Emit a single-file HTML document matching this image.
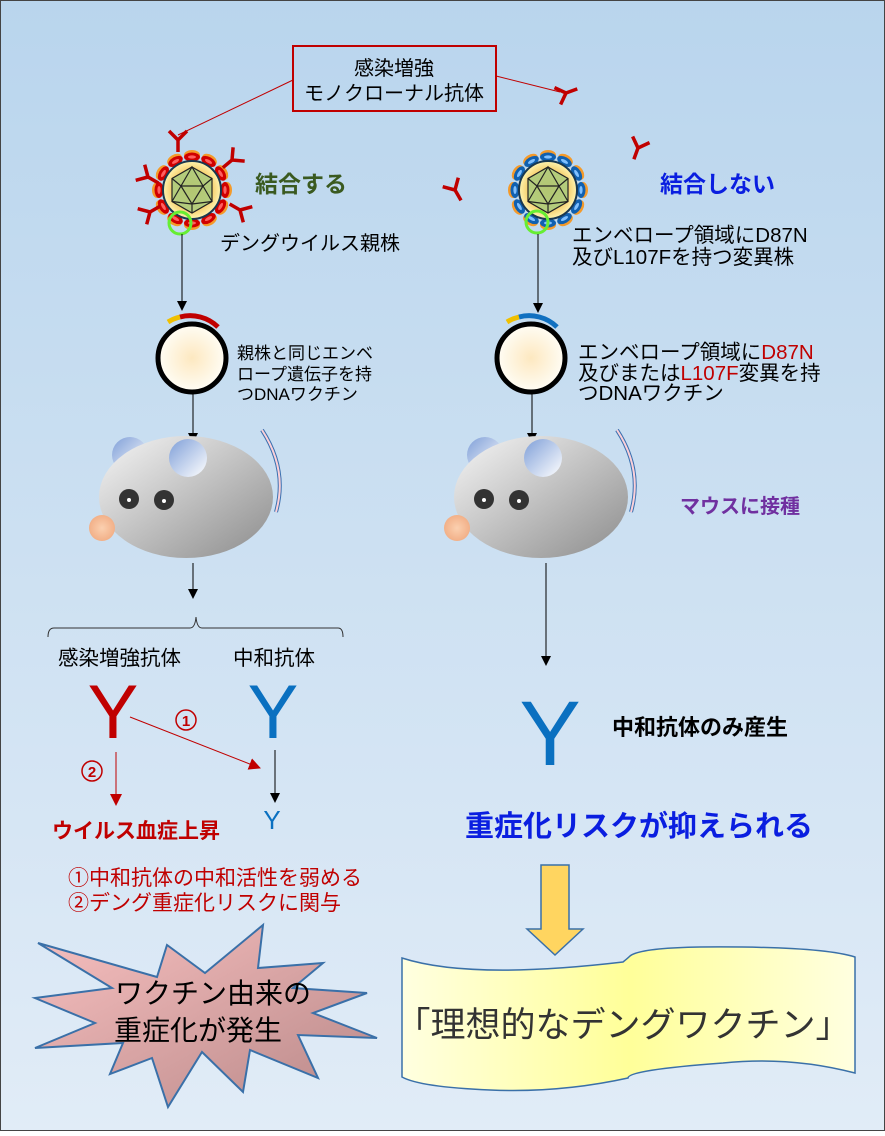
<!DOCTYPE html>
<html><head><meta charset="utf-8"><style>
html,body{margin:0;padding:0}
body{width:885px;height:1131px;overflow:hidden}
svg text{font-family:"Liberation Sans","Noto Sans CJK JP",sans-serif}
</style></head><body>
<svg width="885" height="1131" viewBox="0 0 885 1131" xmlns="http://www.w3.org/2000/svg">
<defs>
<linearGradient id="bg" x1="0" y1="0" x2="0" y2="1"><stop offset="0" stop-color="#b9d5ed"/><stop offset="1" stop-color="#e1ecf7"/></linearGradient>
<radialGradient id="vir" cx="0.5" cy="0.5" r="0.5"><stop offset="0" stop-color="#f0a020"/><stop offset="0.7" stop-color="#f5d070"/><stop offset="1" stop-color="#fff4b0"/></radialGradient>
<radialGradient id="dna" cx="0.5" cy="0.5" r="0.5"><stop offset="0" stop-color="#fde8c0"/><stop offset="1" stop-color="#fffdf5"/></radialGradient>
<linearGradient id="body" x1="0" y1="0" x2="1" y2="1"><stop offset="0" stop-color="#f6f6f6"/><stop offset="1" stop-color="#8c8c8c"/></linearGradient>
<linearGradient id="ear" x1="0" y1="0" x2="1" y2="1"><stop offset="0" stop-color="#7f9fd8"/><stop offset="1" stop-color="#ffffff"/></linearGradient>
<radialGradient id="nose"><stop offset="0" stop-color="#fbd0b0"/><stop offset="1" stop-color="#f2b088"/></radialGradient>
<linearGradient id="star" x1="0" y1="0" x2="1" y2="1"><stop offset="0" stop-color="#f8c0c0"/><stop offset="1" stop-color="#b88888"/></linearGradient>
<linearGradient id="scroll" x1="0" y1="0" x2="1" y2="0"><stop offset="0" stop-color="#ffffe0"/><stop offset="0.5" stop-color="#ffff99"/><stop offset="1" stop-color="#ffffe0"/></linearGradient>
<marker id="ab" markerWidth="10" markerHeight="10" refX="9" refY="5" orient="auto" markerUnits="userSpaceOnUse"><path d="M0,0 L10,5 L0,10z" fill="#000"/></marker>
<marker id="ar" markerWidth="12" markerHeight="12" refX="11" refY="6" orient="auto" markerUnits="userSpaceOnUse"><path d="M0,0 L12,6 L0,12z" fill="#c00000"/></marker>
<g id="ovr"><ellipse cx="0" cy="-35" rx="8" ry="5" fill="#f49a2a"/><ellipse cx="0" cy="-33" rx="8" ry="4.5" fill="#d00000"/><ellipse cx="0" cy="-33" rx="4" ry="1.6" fill="#ff6060"/></g>
<g id="ovb"><ellipse cx="0" cy="-35" rx="8" ry="5" fill="#f49a2a"/><ellipse cx="0" cy="-33" rx="8" ry="4.5" fill="#1060b0"/><ellipse cx="0" cy="-33" rx="4" ry="1.6" fill="#80c0ff"/></g>
<g id="ico"><circle r="29" fill="url(#vir)" stroke="#1a3850" stroke-width="2"/>
<polygon points="0,-23 20,-11.5 20,11.5 0,23 -20,11.5 -20,-11.5" fill="#a8cc80" fill-opacity="0.85" stroke="#222" stroke-width="1.2"/>
<path d="M0,-23 L-11,-4 L11,-4Z M-11,-4 L0,14 L11,-4 M-20,-11.5 L-11,-4 M20,-11.5 L11,-4 M-20,11.5 L-11,-4 M20,11.5 L11,-4 M0,14 L0,23 M-20,11.5 L0,14 L20,11.5" fill="none" stroke="#222" stroke-width="1.2"/></g>
<path id="ya" d="M0,12 L0,0 M0,0 L-9,-9 M0,0 L9,-9" fill="none" stroke="#c00000" stroke-width="3.5"/>
</defs>
<rect x="0" y="0" width="885" height="1131" fill="url(#bg)" stroke="#444" stroke-width="2"/>

<rect x="293" y="46" width="203" height="65" fill="none" stroke="#c00000" stroke-width="2"/>
<text x="394" y="75" font-size="20" text-anchor="middle">感染増強</text>
<text x="394" y="100" font-size="20" text-anchor="middle">モノクローナル抗体</text>
<line x1="293" y1="80" x2="178" y2="135" stroke="#c00000" stroke-width="1"/>
<line x1="496" y1="76" x2="560" y2="92" stroke="#c00000" stroke-width="1"/>

<g transform="translate(192,190)">
<use href="#ovr" transform="rotate(0)"/><use href="#ovr" transform="rotate(30)"/><use href="#ovr" transform="rotate(60)"/><use href="#ovr" transform="rotate(90)"/><use href="#ovr" transform="rotate(120)"/><use href="#ovr" transform="rotate(150)"/><use href="#ovr" transform="rotate(180)"/><use href="#ovr" transform="rotate(210)"/><use href="#ovr" transform="rotate(240)"/><use href="#ovr" transform="rotate(270)"/><use href="#ovr" transform="rotate(300)"/><use href="#ovr" transform="rotate(330)"/>
<use href="#ico"/>
</g>
<use href="#ya" transform="translate(178,140) rotate(0)"/>
<use href="#ya" transform="translate(232,160) rotate(50)"/>
<use href="#ya" transform="translate(148,177) rotate(-60)"/>
<use href="#ya" transform="translate(150,212) rotate(-120)"/>
<use href="#ya" transform="translate(240,210) rotate(120)"/>
<circle cx="180" cy="223" r="11" fill="none" stroke="#66ee33" stroke-width="3"/>
<text x="255" y="192" font-size="23" font-weight="bold" fill="#3a5a20">結合する</text>
<text x="220" y="250" font-size="20">デングウイルス親株</text>

<use href="#ya" transform="translate(566,93) rotate(-110)"/>
<use href="#ya" transform="translate(638,148) rotate(20)"/>
<use href="#ya" transform="translate(455,190) rotate(-30)"/>

<g transform="translate(548,190)">
<use href="#ovb" transform="rotate(0)"/><use href="#ovb" transform="rotate(30)"/><use href="#ovb" transform="rotate(60)"/><use href="#ovb" transform="rotate(90)"/><use href="#ovb" transform="rotate(120)"/><use href="#ovb" transform="rotate(150)"/><use href="#ovb" transform="rotate(180)"/><use href="#ovb" transform="rotate(210)"/><use href="#ovb" transform="rotate(240)"/><use href="#ovb" transform="rotate(270)"/><use href="#ovb" transform="rotate(300)"/><use href="#ovb" transform="rotate(330)"/>
<use href="#ico"/>
</g>
<circle cx="537" cy="222" r="11" fill="none" stroke="#66ee33" stroke-width="3"/>
<text x="660" y="192" font-size="23" font-weight="bold" fill="#0a1ee0">結合しない</text>
<text x="572" y="242" font-size="20.5">エンベロープ領域にD87N</text>
<text x="572" y="264" font-size="20.5">及びL107Fを持つ変異株</text>

<line x1="182" y1="234" x2="182" y2="310" stroke="#000" marker-end="url(#ab)"/>
<line x1="538" y1="234" x2="538" y2="312" stroke="#000" marker-end="url(#ab)"/>

<circle cx="192" cy="358" r="34" fill="url(#dna)" stroke="#000" stroke-width="5"/>
<path d="M168,322 A40,40 0 0 1 180,317" fill="none" stroke="#f0c000" stroke-width="5"/>
<path d="M180,317 A40,40 0 0 1 218,327" fill="none" stroke="#c00000" stroke-width="5"/>
<text x="237" y="359" font-size="17">親株と同じエンベ</text>
<text x="237" y="380" font-size="17">ロープ遺伝子を持</text>
<text x="237" y="400" font-size="17">つDNAワクチン</text>

<circle cx="531" cy="358" r="34" fill="url(#dna)" stroke="#000" stroke-width="5"/>
<path d="M507,322 A40,40 0 0 1 519,317" fill="none" stroke="#f0c000" stroke-width="5"/>
<path d="M519,317 A40,40 0 0 1 557,327" fill="none" stroke="#1070c0" stroke-width="5"/>
<text x="578" y="359" font-size="20.5">エンベロープ領域に<tspan fill="#c00000">D87N</tspan></text>
<text x="578" y="380" font-size="20.5">及びまたは<tspan fill="#c00000">L107F</tspan>変異を持</text>
<text x="578" y="400" font-size="20.5">つDNAワクチン</text>

<line x1="193" y1="393" x2="193" y2="442" stroke="#000" marker-end="url(#ab)"/>
<line x1="532" y1="393" x2="532" y2="442" stroke="#000" marker-end="url(#ab)"/>

<g id="mouse">
<path d="M262,430 Q288,470 276,512" fill="none" stroke="#3a70b0" stroke-width="4"/>
<path d="M262,430 Q288,470 276,512" fill="none" stroke="#fcd0d8" stroke-width="2"/>
<circle cx="130" cy="455" r="18" fill="url(#ear)"/>
<ellipse cx="186" cy="497" rx="87" ry="61" fill="url(#body)"/>
<circle cx="188" cy="458" r="19" fill="url(#ear)"/>
<circle cx="129" cy="499" r="10" fill="#333"/><circle cx="129" cy="500" r="2" fill="#fff"/>
<circle cx="164" cy="500" r="10" fill="#333"/><circle cx="164" cy="501" r="2" fill="#fff"/>
<circle cx="102" cy="528" r="13" fill="url(#nose)"/>
</g>
<use href="#mouse" transform="translate(355,0)"/>
<text x="680" y="513" font-size="20" font-weight="bold" fill="#7030a0">マウスに接種</text>

<line x1="193" y1="563" x2="193" y2="598" stroke="#000" marker-end="url(#ab)"/>
<line x1="546" y1="563" x2="546" y2="665" stroke="#000" marker-end="url(#ab)"/>

<path d="M48,637 Q48,628 54,628 L190,628 Q195,628 196,617 Q197,628 202,628 L338,628 Q343,628 343,637" fill="none" stroke="#333" stroke-width="1"/>
<text x="58" y="665" font-size="20.5">感染増強抗体</text>
<text x="233" y="665" font-size="20.5">中和抗体</text>

<text x="113" y="738" font-size="76" fill="#c00000" text-anchor="middle">Y</text>
<text x="273" y="738" font-size="76" fill="#0a70c0" text-anchor="middle">Y</text>
<line x1="130" y1="717" x2="260" y2="768" stroke="#c00000" stroke-width="1" marker-end="url(#ar)"/>
<circle cx="186" cy="720" r="10" fill="none" stroke="#c00000" stroke-width="1.5"/>
<text x="186" y="726" font-size="15" font-weight="bold" fill="#c00000" text-anchor="middle">1</text>
<line x1="116" y1="752" x2="116" y2="805" stroke="#c00000" stroke-width="1" marker-end="url(#ar)"/>
<circle cx="92" cy="771" r="10" fill="none" stroke="#c00000" stroke-width="1.5"/>
<text x="92" y="777" font-size="15" font-weight="bold" fill="#c00000" text-anchor="middle">2</text>
<line x1="275" y1="750" x2="275" y2="802" stroke="#000" marker-end="url(#ab)"/>
<text x="272" y="829" font-size="26" fill="#0a70c0" text-anchor="middle">Y</text>
<text x="52" y="838" font-size="21" font-weight="bold" fill="#c00000">ウイルス血症上昇</text>

<text x="550" y="765" font-size="92" fill="#0a70c0" text-anchor="middle">Y</text>
<text x="612" y="735" font-size="22" font-weight="bold">中和抗体のみ産生</text>
<text x="465" y="836" font-size="29" font-weight="bold" fill="#0a1ee0">重症化リスクが抑えられる</text>

<text x="68" y="885" font-size="21" fill="#c00000">①中和抗体の中和活性を弱める</text>
<text x="68" y="910" font-size="21" fill="#c00000">②デング重症化リスクに関与</text>

<polygon points="38,943 112,988 35,998 95,1023 35,1048 123,1043 110,1074 152,1058 168,1107 202,1052 243,1092 250,1050 318,1078 298,1035 377,1038 313,1013 367,993 293,988 323,963 258,968 263,925 205,973 167,945 157,977" fill="url(#star)" stroke="#3a70a8" stroke-width="2"/>
<text x="115" y="1003" font-size="28">ワクチン由来の</text>
<text x="114" y="1040" font-size="28">重症化が発生</text>

<polygon points="541,865 569,865 569,929 583,929 555,955 527,929 541,929" fill="#ffd560" stroke="#3a70a8" stroke-width="1.5"/>

<path d="M402,958 Q470,980 623,962 Q628,958 630,956 Q640,948 700,947 Q820,946 855,957 L855,1073 Q790,1056 723,1063 Q628,1070 628,1078 Q560,1093 490,1090 Q420,1087 402,1077 Z" fill="url(#scroll)" stroke="#3a70a8" stroke-width="1.5"/>
<text x="623" y="1037" font-size="35" fill="#333" text-anchor="middle">「理想的なデングワクチン」</text>
</svg>
</body></html>
